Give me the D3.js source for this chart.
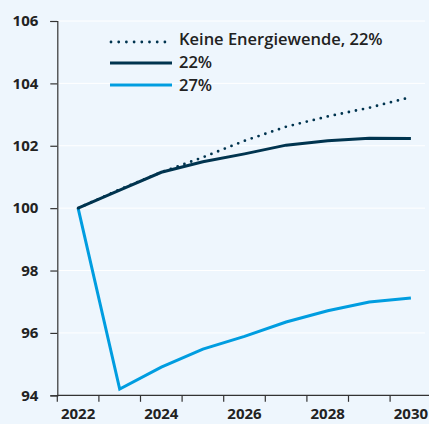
<!DOCTYPE html>
<html>
<head>
<meta charset="utf-8">
<script src="https://cdn.jsdelivr.net/npm/d3@7"></script>
<style>
  html, body { margin: 0; padding: 0; background: #eef6fd; }
  svg { display: block; }
  text { font-family: "Source Sans Pro", "Open Sans", "Noto Sans", sans-serif; fill: #222; }
</style>
</head>
<body>
<svg id="chart" width="429" height="424"></svg>
<script>
// Index values, 2022 = 100
const years = [2022, 2023, 2024, 2025, 2026, 2027, 2028, 2029, 2030];
const noTransition22 = [100, 100.6, 101.15, 101.63, 102.16, 102.61, 102.94, 103.22, 103.56];
const rate22 = [100, 100.58, 101.15, 101.49, 101.74, 102.02, 102.16, 102.24, 102.23];
const rate27 = [100, 94.2, 94.9, 95.48, 95.89, 96.35, 96.71, 96.99, 97.12];
const yTicks = [94, 96, 98, 100, 102, 104, 106];
const xTickLabels = ["2022", "2024", "2026", "2028", "2030"];
const legendLabels = ["Keine Energiewende, 22%", "22%", "27%"];

const darkBlue = "#00344f";
const lightBlue = "#009de0";

const svg = d3.select("#chart");
const W = 429, H = 424;

const x = d3.scaleBand().domain(years).range([57.3, 57.3 + 9 * 41.6]).padding(0);
const y = d3.scaleLinear().domain([94, 106]).range([395.3, 21]);

// Horizontal gridlines
svg.append("g")
  .selectAll("line")
  .data(yTicks.filter(d => d > 94))
  .join("line")
  .attr("x1", 57.3).attr("x2", 425)
  .attr("y1", d => y(d)).attr("y2", d => y(d))
  .attr("stroke", "#ffffff").attr("stroke-width", 1);

// Y axis
const yAxis = svg.append("g")
  .attr("transform", "translate(57.3,0)")
  .call(d3.axisLeft(y).tickValues(yTicks).tickSize(7).tickPadding(12).tickFormat(d3.format("d")));
yAxis.select(".domain").attr("stroke", "#333").attr("stroke-width", 1.2);
yAxis.selectAll(".tick line").attr("stroke", "#333").attr("stroke-width", 1.2);
yAxis.selectAll(".tick text")
  .style("font-size", "15px").style("font-weight", "700").attr("fill", "#222");

// X axis: ticks at band edges, labels centred in every other band
const xAxisG = svg.append("g").attr("transform", "translate(0,395.3)");
xAxisG.append("line")
  .attr("x1", 57.3).attr("x2", W)
  .attr("stroke", "#333").attr("stroke-width", 1.2);
xAxisG.selectAll("line.tk")
  .data(years)
  .join("line")
  .attr("class", "tk")
  .attr("x1", d => x(d)).attr("x2", d => x(d))
  .attr("y1", 0).attr("y2", 6.5)
  .attr("stroke", "#333").attr("stroke-width", 1.2);
xAxisG.selectAll("text")
  .data(xTickLabels)
  .join("text")
  .attr("x", d => x(+d) + x.bandwidth() / 2)
  .attr("y", 24)
  .attr("text-anchor", "middle")
  .style("font-size", "15px").style("font-weight", "700")
  .text(d => d);

const line = d3.line()
  .x((d, i) => x(years[i]) + x.bandwidth() / 2)
  .y(d => y(d));

// Series
svg.append("path")
  .datum(rate27)
  .attr("d", line)
  .attr("fill", "none").attr("stroke", lightBlue).attr("stroke-width", 3);

svg.append("path")
  .datum(noTransition22)
  .attr("d", line)
  .attr("fill", "none").attr("stroke", darkBlue).attr("stroke-width", 2.8)
  .attr("stroke-linecap", "round").attr("stroke-dasharray", "0 7.2");

svg.append("path")
  .datum(rate22)
  .attr("d", line)
  .attr("fill", "none").attr("stroke", darkBlue).attr("stroke-width", 3);

// Legend
const legend = svg.append("g");
const legendItems = [
  { label: legendLabels[0], color: darkBlue, dash: "0 7.7", cap: "round", w: 2.8, y: 42, ty: 39 },
  { label: legendLabels[1], color: darkBlue, dash: null, cap: "butt", w: 3.2, y: 63, ty: 62.3 },
  { label: legendLabels[2], color: lightBlue, dash: null, cap: "butt", w: 3.2, y: 85, ty: 85 }
];
legendItems.forEach(it => {
  legend.append("line")
    .attr("x1", it.dash ? 111 : 110).attr("x2", 172)
    .attr("y1", it.y).attr("y2", it.y)
    .attr("stroke", it.color).attr("stroke-width", it.w)
    .attr("stroke-linecap", it.cap)
    .attr("stroke-dasharray", it.dash);
  legend.append("text")
    .attr("x", 179).attr("y", it.ty)
    .attr("dy", "0.35em")
    .style("font-size", "16.5px").style("font-weight", "600")
    .text(it.label);
});
</script>
</body>
</html>
